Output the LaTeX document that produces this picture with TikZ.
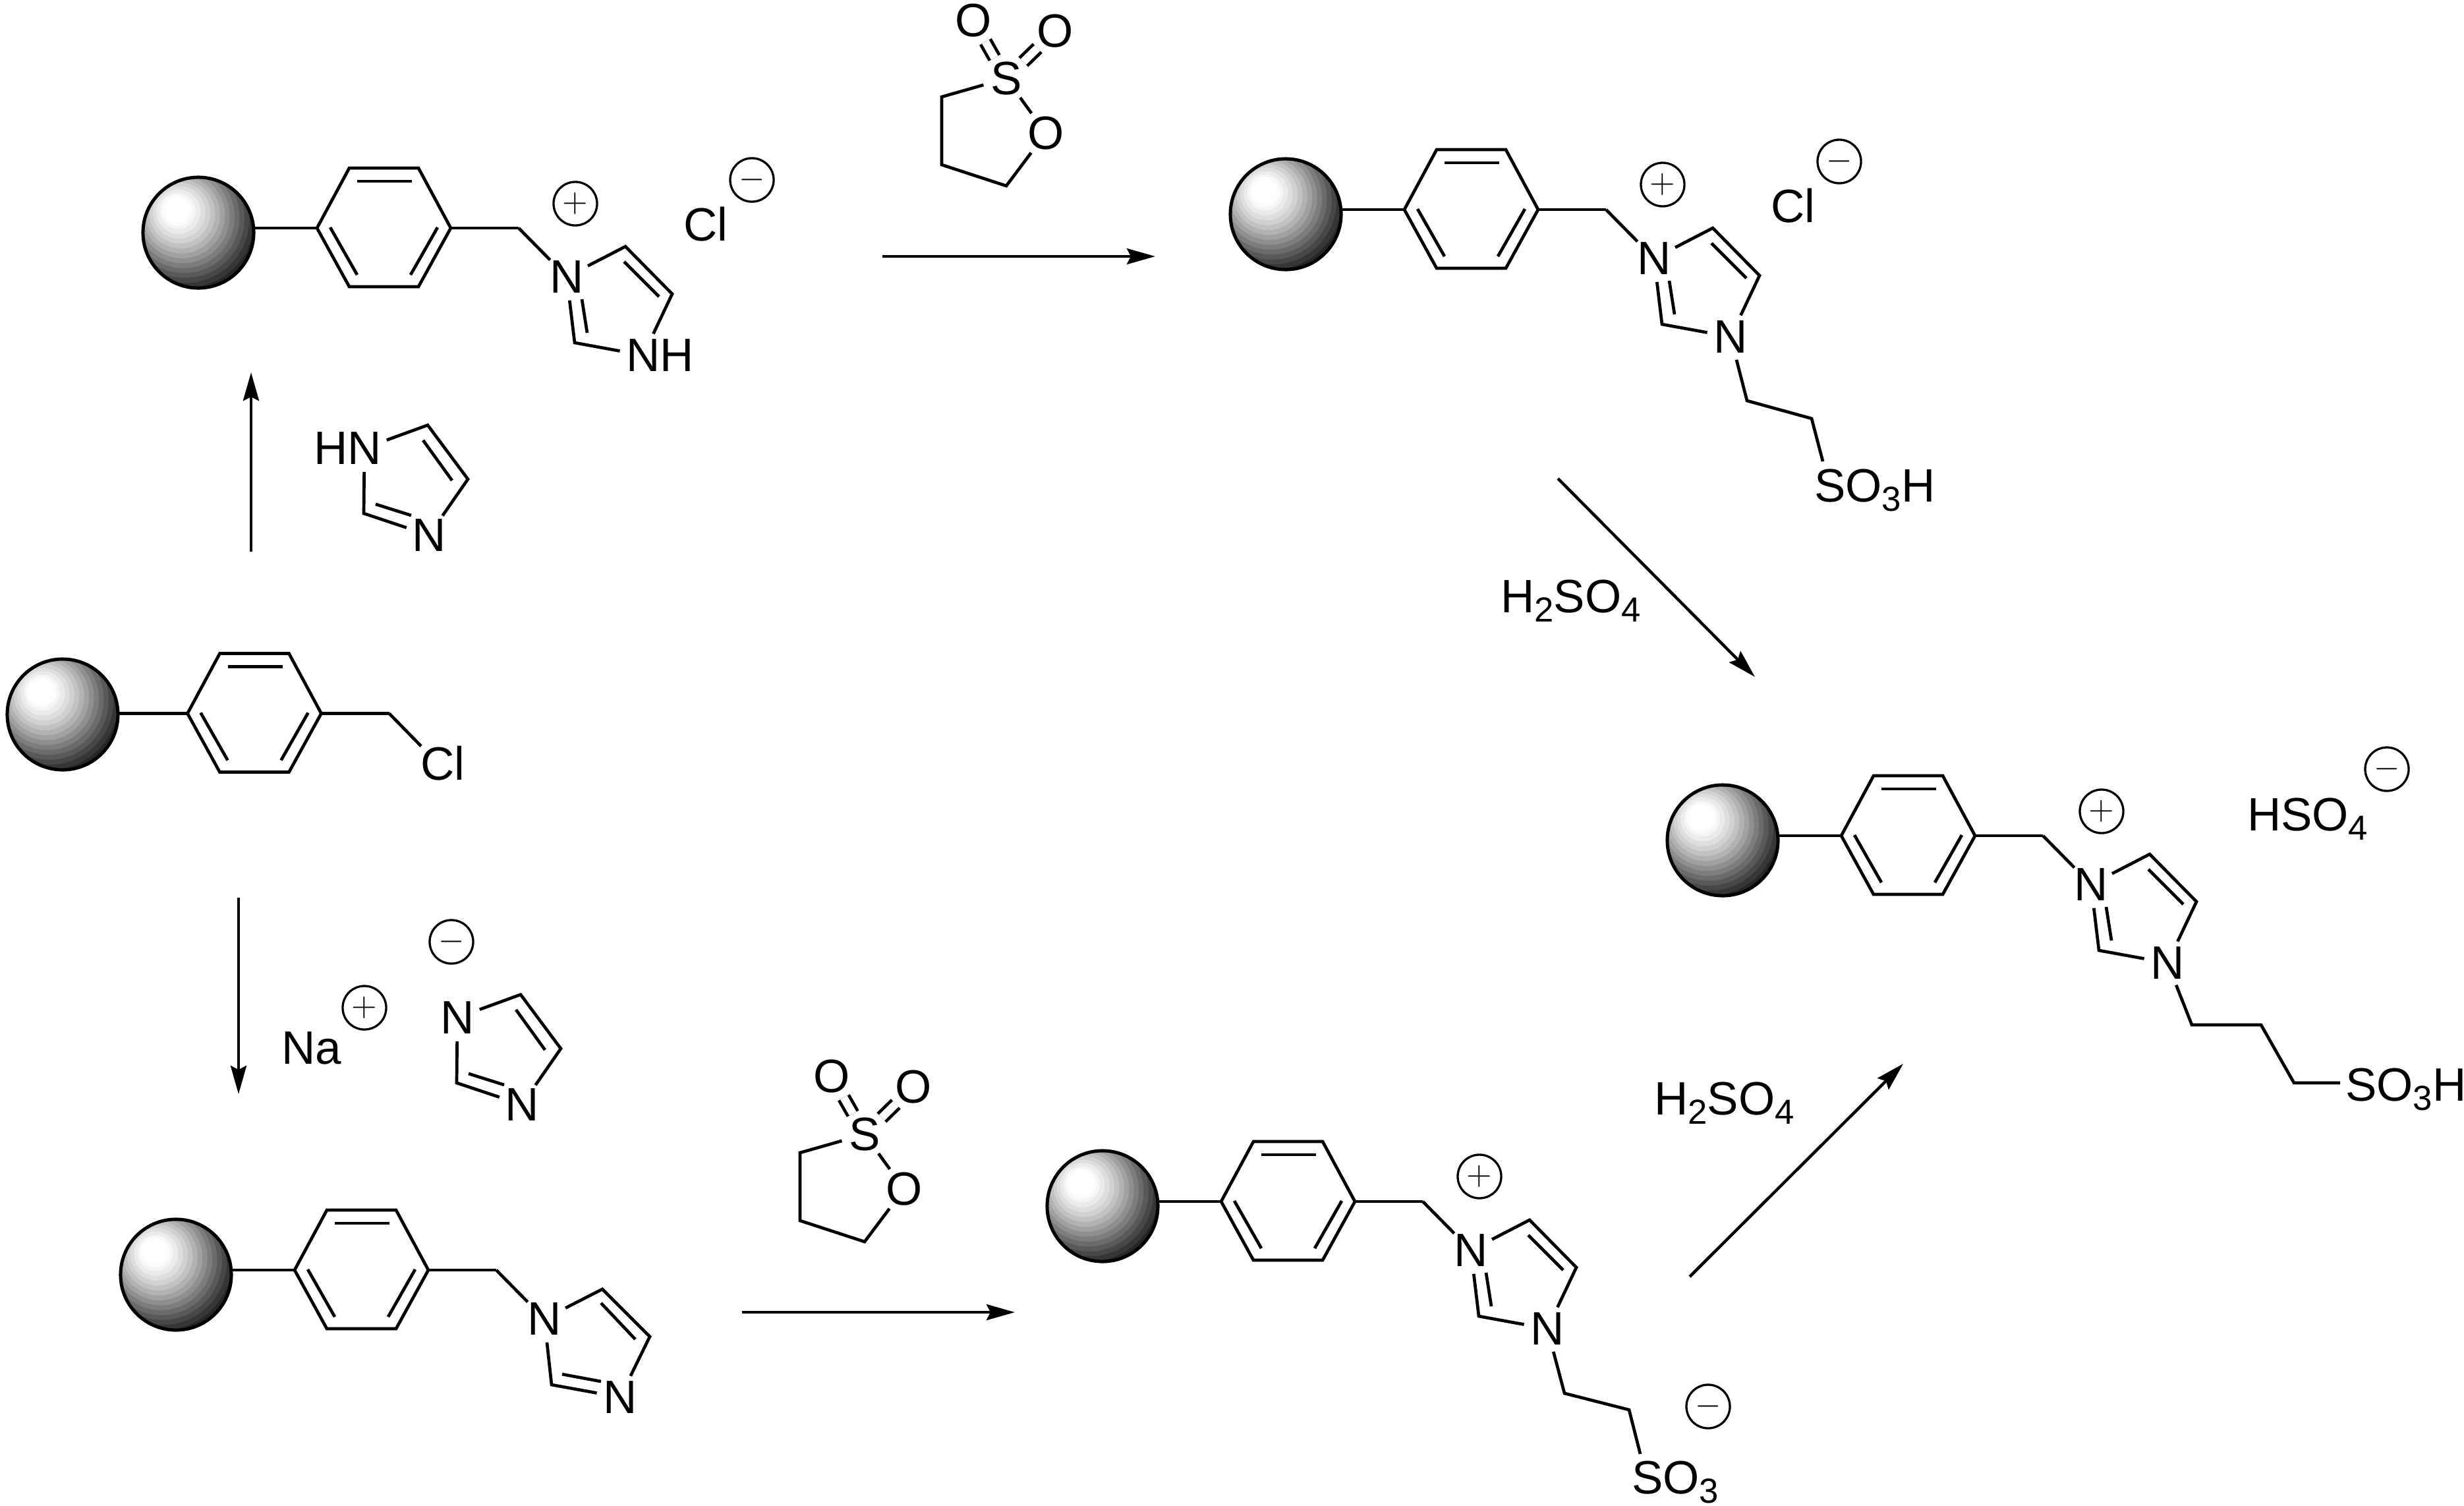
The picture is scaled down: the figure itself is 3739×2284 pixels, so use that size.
\documentclass[tikz,border=0pt]{standalone}
\usepackage{fontspec}
\setmainfont{Liberation Sans}
\usepackage{tikz}
\usetikzlibrary{arrows.meta}

\newcommand{\subs}[1]{\raisebox{-0.2em}{\fontsize{15}{15}\selectfont #1}}

% resin bead, phenylene ring and CH2
\newcommand{\benzyl}[3][0,0]{
  \begin{scope}[shift={(#3)}]
    \begin{scope}
      \clip (0,0) circle[radius=0.85cm];
      \fill[black] (0,0) circle[radius=0.85cm];
      % bands of the highlight, outermost first
      \foreach \t/\g in {.62/0,.58/5,.55/10,.52/15,.49/21,.46/28,.43/35,.40/42,.37/49,.34/56,
                         .31/63,.28/70,.25/76,.22/82,.19/87,.16/92,.13/96,.11/99,.09/100}
        \fill[white!\g!black] ({-36*(1-\t)},{-38*(1-\t)}) circle[radius={\t*2.1cm}];
    \end{scope}
    \node[resin] (#2_s) at (0,0) {};
    \begin{scope}[shift={(#1)}]
      \coordinate (#2_a) at (180,-7);
      \coordinate (#2_b) at (229,-98);
      \coordinate (#2_c) at (334,-98);
      \coordinate (#2_d) at (383,-7);
      \coordinate (#2_e) at (334,82);
      \coordinate (#2_f) at (229,82);
      \coordinate (#2_g) at (486,-7);
      \draw[bond] (#2_a) -- (#2_b) -- (#2_c) -- (#2_d) -- (#2_e) -- (#2_f) -- cycle;
      \draw[bond] (#2_s.east |- #2_a) -- (#2_a);
      \draw[bond] (#2_d) -- (#2_g);
      \draw[bond] (241,-78) -- (324,-78);
      \draw[bond] (200,-8) -- (241,64);
      \draw[bond] (363,-8) -- (322,64);
    \end{scope}
  \end{scope}
}

% imidazolium on the benzyl group
\newcommand{\imidazolium}[2]{
  \begin{scope}[shift={(#2)}]
    \node[atom] (#1_n) at (559,67) {N};
    \node[atom] (#1_m) at (675,186) {N};
    \coordinate (#1_p) at (648,21);
    \coordinate (#1_q) at (719,93);
    \coordinate (#1_r) at (571,167);
    \draw[bond] (#1_g) -- (#1_n);
    \draw[bond] (#1_n) -- (#1_p) -- (#1_q) -- (#1_m);
    \draw[bond] (#1_n) -- (#1_r) -- (#1_m);
    \draw[bond] (646,44) -- (699,97);
    \draw[bond] (582,101) -- (590,152);
  \end{scope}
}

% neutral imidazole on the benzyl group
\newcommand{\imidazolyl}[2]{
  \begin{scope}[shift={(#2)}]
    \node[atom] (#1_n) at (559,67) {N};
    \node[atom] (#1_m) at (674,186) {N};
    \coordinate (#1_p) at (647,22);
    \coordinate (#1_q) at (719,94);
    \coordinate (#1_r) at (570,167);
    \draw[bond] (#1_g) -- (#1_n);
    \draw[bond] (#1_n) -- (#1_p) -- (#1_q) -- (#1_m);
    \draw[bond] (#1_n) -- (#1_r) -- (#1_m);
    \draw[bond] (645,43) -- (697,98);
    \draw[bond] (586,151) -- (645,162);
  \end{scope}
}

% free imidazole reagent
\newcommand{\freeimid}[2]{
  \begin{scope}[shift={(#2)}]
    \node[atom] (#1_n) at (0,0) {N};
    \node[atom] (#1_m) at (98,132) {N};
    \coordinate (#1_p) at (96,-35);
    \coordinate (#1_q) at (157,47);
    \coordinate (#1_r) at (-1,99);
    \draw[bond] (#1_n) -- (#1_p) -- (#1_q) -- (#1_m);
    \draw[bond] (#1_n) -- (#1_r) -- (#1_m);
    \draw[bond] (89,-12) -- (133,49);
    \draw[bond] (17,85) -- (71,102);
  \end{scope}
}

% 1,3-propane sultone
\newcommand{\sultone}[2]{
  \begin{scope}[shift={(#2)}]
    \node[atom] (#1_s) at (0,0) {S};
    \node[atom] (#1_o) at (-50,-88) {O};
    \node[atom] (#1_t) at (74,-72) {O};
    \node[atom] (#1_u) at (60,83) {O};
    \coordinate (#1_a) at (-98,28);
    \coordinate (#1_b) at (-98,131);
    \coordinate (#1_c) at (0,163);
    \draw[dbl] (#1_s) -- (#1_o);
    \draw[dbl] (#1_s) -- (#1_t);
    \draw[bond] (#1_s) -- (#1_a) -- (#1_b) -- (#1_c) -- (#1_u) -- (#1_s);
  \end{scope}
}

\begin{document}
\begin{tikzpicture}[x=0.01cm,y=-0.01cm]
  \tikzstyle{bond}=[line width=0.047cm,line join=miter]
  \tikzstyle{dbl}=[line width=0.047cm,double,double distance=0.12cm]
  \tikzstyle{atom}=[circle,inner sep=0pt,outer sep=0pt,minimum size=0.72cm,font=\fontsize{20.2}{24}\selectfont]
  \tikzstyle{txt}=[anchor=base west,inner sep=0pt,outer sep=0pt,font=\fontsize{20.2}{24}\selectfont]
  \tikzstyle{charge}=[circle,draw,line width=0.033cm,inner sep=0pt,outer sep=0pt,minimum size=0.66cm,font=\Large]
  \tikzstyle{resin}=[circle,draw,line width=0.05cm,inner sep=0pt,outer sep=0pt,minimum size=1.68cm]
  \tikzstyle{rxn}=[-{Stealth[length=0.43cm,width=0.24cm,inset=0.06cm]},line width=0.045cm]

  \useasboundingbox (0,0) rectangle (3739,2284);

  % top left
  \benzyl{A}{301,353}
  \imidazolium{A}{301,353}
  \node[txt] (A_h) at ([xshift=0.255cm]A_m.base) {H};
  \node[charge] (A_plus) at (873,309) {$+$};
  \node[charge] (A_minus) at (1141,273) {$-$};
  \node[txt] (A_cl) at (1037,365) {Cl};

  % top right
  \benzyl{B}{1951,325}
  \imidazolium{B}{1951,325}
  \node[charge] (B_plus) at (2523,280) {$+$};
  \node[charge] (B_minus) at (2791,245) {$-$};
  \node[txt] (B_cl) at (2687,337) {Cl};
  \node[txt] (B_so) at (2753,761) {SO\subs{3}H};
  \coordinate (B_x) at (2651,608);
  \coordinate (B_y) at (2749,635);
  \coordinate (B_z) at (2766,700);
  \draw[bond] (B_m) -- (B_x) -- (B_y) -- (B_z);

  % benzyl chloride
  \benzyl[9.5,5.5]{C}{95,1084}
  \node[txt] (C_cl) at (638,1183) {Cl};
  \coordinate (C_z) at (639,1132);
  \draw[bond] (C_g) -- (C_z);

  % right, product
  \benzyl{D}{2614,1275}
  \imidazolium{D}{2614,1275}
  \node[charge] (D_plus) at (3189,1231) {$+$};
  \node[charge] (D_minus) at (3622,1167) {$-$};
  \node[txt] (D_hso) at (3410,1260) {HSO\subs{4}};
  \node[txt] (D_so) at (3559,1670) {SO\subs{3}H};
  \coordinate (D_x) at (3326,1555);
  \coordinate (D_y) at (3431,1555);
  \coordinate (D_w) at (3481,1643);
  \coordinate (D_z) at (3551,1643);
  \draw[bond] (D_m) -- (D_x) -- (D_y) -- (D_w) -- (D_z);

  % bottom left
  \benzyl{E}{267,1934}
  \imidazolyl{E}{267,1934}

  % bottom middle
  \benzyl{F}{1673,1830}
  \imidazolium{F}{1673,1830}
  \node[charge] (F_plus) at (2245,1785) {$+$};
  \node[charge] (F_minus) at (2592,2134) {$-$};
  \node[txt] (F_so) at (2476,2266) {SO\subs{3}};
  \coordinate (F_x) at (2374,2114);
  \coordinate (F_y) at (2472,2139);
  \coordinate (F_z) at (2489,2206);
  \draw[bond] (F_m) -- (F_x) -- (F_y) -- (F_z);

  % reagents
  \freeimid{I}{553,680}
  \node[txt,anchor=base east] (I_h) at ([xshift=-0.255cm]I_n.base) {H};
  \freeimid{J}{694,1544}
  \node[charge] (J_minus) at (685,1429) {$-$};
  \node[charge] (J_plus) at (553,1529) {$+$};
  \node[txt] (J_na) at (427,1614) {Na};
  \sultone{S}{1527,119}
  \sultone{T}{1312,1721}
  \node[txt] (H_a) at (2277,929) {H\subs{2}SO\subs{4}};
  \node[txt] (H_b) at (2510,1691) {H\subs{2}SO\subs{4}};

  % reaction arrows
  \coordinate (r_1) at (381,837);
  \coordinate (r_2) at (381,565);
  \coordinate (r_3) at (362,1362);
  \coordinate (r_4) at (362,1660);
  \coordinate (r_5) at (1339,389);
  \coordinate (r_6) at (1753,389);
  \coordinate (r_7) at (2364,726);
  \coordinate (r_8) at (2663,1027);
  \coordinate (r_9) at (1126,1991);
  \coordinate (r_10) at (1540,1991);
  \coordinate (r_11) at (2564,1937);
  \coordinate (r_12) at (2888,1614);
  \path[rxn]
  (r_1) edge (r_2)
  (r_3) edge (r_4)
  (r_5) edge (r_6)
  (r_7) edge (r_8)
  (r_9) edge (r_10)
  (r_11) edge (r_12);
\end{tikzpicture}
\end{document}
